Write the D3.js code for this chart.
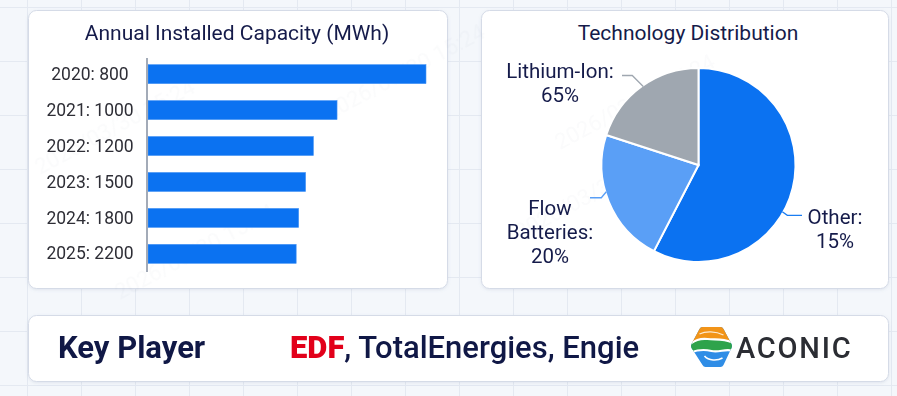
<!DOCTYPE html>
<html>
<head>
<meta charset="utf-8">
<script src="https://cdn.jsdelivr.net/npm/d3@7"></script>
<style>
  html, body { margin: 0; padding: 0; background: #f4f7fb; }
  svg { display: block; font-family: Roboto, "Noto Sans", sans-serif; }
</style>
</head>
<body>
<svg id="chart" width="897" height="396"></svg>
<script>
// bar chart data
const years = ["2020", "2021", "2022", "2023", "2024", "2025"];
const capacityLabels = [800, 1000, 1200, 1500, 1800, 2200];
// bar lengths as drawn in the picture (relative, longest = 100)
const barValues = [100, 68, 59.5, 56.7, 54.2, 53.3];

// pie data (slice shares as drawn, labels as printed)
const techNames = ["Other", "Flow Batteries", "Lithium-Ion"];
const sliceShares = [57.6, 22.4, 20];
const labelPercents = [15, 20, 65];

const players = ["TotalEnergies", "Engie"];

const W = 897, H = 396;
const svg = d3.select("#chart");
const defs = svg.append("defs");

// soft panel shadow
const f = defs.append("filter").attr("id", "shadow")
    .attr("x", "-5%").attr("y", "-5%").attr("width", "110%").attr("height", "115%");
f.append("feDropShadow").attr("dx", 0).attr("dy", 1).attr("stdDeviation", 1.5)
    .attr("flood-color", "#8090b0").attr("flood-opacity", 0.18);

// background grid
const bg = svg.append("g");
bg.append("rect").attr("width", W).attr("height", H).attr("fill", "#f4f7fb");
d3.range(27.5, W, 54).forEach(x => {
    bg.append("line").attr("x1", x).attr("x2", x).attr("y1", 0).attr("y2", H)
        .attr("stroke", "#e4e9f1").attr("stroke-width", 1);
});
d3.range(7.5, H, 54).forEach(y => {
    bg.append("line").attr("x1", 0).attr("x2", W).attr("y1", y).attr("y2", y)
        .attr("stroke", "#e4e9f1").attr("stroke-width", 1);
});

function panel(x, y, w, h) {
    svg.append("rect")
        .attr("x", x).attr("y", y).attr("width", w).attr("height", h)
        .attr("rx", 8).attr("ry", 8)
        .attr("fill", "#ffffff")
        .attr("stroke", "#d5dbe7").attr("stroke-width", 1)
        .attr("filter", "url(#shadow)");
}

panel(28.5, 10.5, 419, 278);
panel(481.5, 10.5, 407, 278);
panel(28.5, 315.5, 860, 66);

// faint watermark stamps
const wm = svg.append("g").attr("fill", "#9aa4b4").attr("opacity", 0.045)
    .attr("font-size", 22);
[[40, 175], [330, 120], [560, 150], [520, 240], [120, 300]].forEach(p => {
    wm.append("text").attr("transform", `translate(${p[0]},${p[1]}) rotate(-28)`)
        .text("2026/03/30 15:24");
});

// ---------- bar chart ----------
const barG = svg.append("g");
barG.append("text")
    .attr("x", 237).attr("y", 40)
    .attr("text-anchor", "middle")
    .attr("font-size", 21).attr("fill", "#151b4a")
    .text("Annual Installed Capacity (MWh)");

const y = d3.scaleBand()
    .domain(years)
    .range([56, 272])
    .paddingInner(0.47)
    .paddingOuter(0.24);

const x = d3.scaleLinear()
    .domain([0, 100])
    .range([148, 426]);

barG.selectAll("rect.bar")
    .data(years)
    .enter().append("rect")
    .attr("class", "bar")
    .attr("x", x(0))
    .attr("y", d => y(d))
    .attr("width", (d, i) => x(barValues[i]) - x(0))
    .attr("height", y.bandwidth())
    .attr("fill", "#0b72f1")
    .attr("stroke", "#4a96f5")
    .attr("stroke-width", 0.6);

const yAxis = barG.append("g")
    .attr("transform", `translate(${x(0) - 1},0)`)
    .call(d3.axisLeft(y).tickSize(0).tickFormat((d, i) => `${d}: ${capacityLabels[i]}`));
yAxis.select(".domain").attr("stroke", "#a3abb8").attr("stroke-width", 2)
    .attr("d", "M0,58V272");
yAxis.selectAll("text")
    .attr("font-size", 17.5)
    .attr("fill", "#2e2e36")
    .attr("font-family", "Roboto, sans-serif")
    .attr("text-anchor", "middle")
    .attr("x", -57);

// ---------- pie chart ----------
const pieG = svg.append("g");
pieG.append("text")
    .attr("x", 688).attr("y", 40)
    .attr("text-anchor", "middle")
    .attr("font-size", 21).attr("fill", "#151b4a")
    .text("Technology Distribution");

const cx = 698.5, cy = 165, r = 97;
const pie = d3.pie().sort(null).value(d => d);
const arcs = pie(sliceShares);
const arc = d3.arc().innerRadius(0).outerRadius(r);
const colors = d3.scaleOrdinal().domain(techNames).range(["#0b72f1", "#5a9ff6", "#9fa7b0"]);

const slices = pieG.append("g").attr("transform", `translate(${cx},${cy})`);
slices.selectAll("path")
    .data(arcs)
    .enter().append("path")
    .attr("d", arc)
    .attr("fill", (d, i) => colors(techNames[i]))
    .attr("stroke", "#ffffff").attr("stroke-width", 2);

// labels with leader lines, placed beside the slices
const labelSpec = [
    { lines: ["Other:", labelPercents[0] + "%"], lx: 835, ly: 224, side: 1, ang: 2.08, end: 802 },
    { lines: ["Flow", "Batteries:", labelPercents[1] + "%"], lx: 550, ly: 215, side: -1, ang: 4.43, end: 590 },
    { lines: ["Lithium-Ion:", labelPercents[2] + "%"], lx: 560, ly: 78, side: -1, ang: 5.67, end: 622 }
];
const lineColors = ["#1a7df2", "#5a9ff6", "#9fa7b0"];
arcs.forEach((a, i) => {
    const s = labelSpec[i];
    const p0 = [cx + Math.sin(s.ang) * (r - 1), cy - Math.cos(s.ang) * (r - 1)];
    const elbowY = i === 0 ? p0[1] + 3.5 : (i === 1 ? p0[1] + 6 : p0[1] - 11);
    const elbowX = p0[0] + s.side * (i === 2 ? 11 : 5);
    pieG.append("path")
        .attr("d", `M${p0[0]},${p0[1]}L${elbowX},${elbowY}L${s.end},${elbowY}`)
        .attr("fill", "none")
        .attr("stroke", lineColors[i]).attr("stroke-width", 1.3);
    const t = pieG.append("text")
        .attr("text-anchor", "middle")
        .attr("font-size", 20.5).attr("fill", "#151b4a");
    s.lines.forEach((ln, k) => {
        t.append("tspan").attr("x", s.lx).attr("y", s.ly + k * 24).text(ln);
    });
});

// ---------- key player strip ----------
const kp = svg.append("g");
kp.append("text")
    .attr("x", 58).attr("y", 358)
    .attr("font-size", 31).attr("font-weight", 700)
    .attr("fill", "#101846")
    .text("Key Player");

const names = kp.append("text")
    .attr("x", 290).attr("y", 358)
    .attr("font-size", 31).attr("font-weight", 500)
    .attr("fill", "#101846");
names.append("tspan").attr("fill", "#e2001a").attr("font-weight", 900).text("EDF");
names.append("tspan").text(", " + players.join(", "));

// ACONIC logo mark
const logo = kp.append("g").attr("transform", "translate(711.5,347)");
const hex = "M-9,-20 L9,-20 Q11,-20 12,-18 L20,-3 Q21,-1 20,1 L12,18 Q11,20 9,20 L-6,20 Q-8,20 -9,18 L-20,1 Q-21,-1 -20,-3 L-12,-18 Q-11,-20 -9,-20 Z";
defs.append("clipPath").attr("id", "hexclip").append("path").attr("d", hex);
const lg = logo.append("g").attr("clip-path", "url(#hexclip)");
lg.append("rect").attr("x", -22).attr("y", -22).attr("width", 44).attr("height", 44).attr("fill", "#2f8de6");
lg.append("path").attr("d", "M-22,-22 H22 V-4 C12,-9 4,-7 -4,-8 C-12,-9 -17,-6 -22,-3 Z").attr("fill", "#f29418");
lg.append("path").attr("d", "M-22,-3 C-17,-6 -12,-9 -4,-8 C4,-7 12,-9 22,-4 V4 C14,1 8,6 0,4 C-8,2 -15,3 -22,6 Z").attr("fill", "#2ea34b");
lg.append("path").attr("d", "M-22,-3 C-17,-6 -12,-9 -4,-8 C4,-7 12,-9 22,-4").attr("fill", "none").attr("stroke", "#fff").attr("stroke-width", 2.2);
lg.append("path").attr("d", "M-22,6 C-15,3 -8,2 0,4 C8,6 14,1 22,4").attr("fill", "none").attr("stroke", "#fff").attr("stroke-width", 2.2);
lg.append("path").attr("d", "M-7,9 C-3,14 6,14 11,11").attr("fill", "none").attr("stroke", "#fff").attr("stroke-width", 1.5);
lg.append("path").attr("d", "M-12,-13 C-6,-16 4,-16 12,-12").attr("fill", "none").attr("stroke", "#fff").attr("stroke-width", 1.2).attr("opacity", 0.8);

kp.append("text")
    .attr("x", 736).attr("y", 358)
    .attr("font-size", 29).attr("font-weight", 500)
    .attr("fill", "#2b2d33").attr("letter-spacing", 1.8)
    .text("ACONIC");
</script>
</body>
</html>
